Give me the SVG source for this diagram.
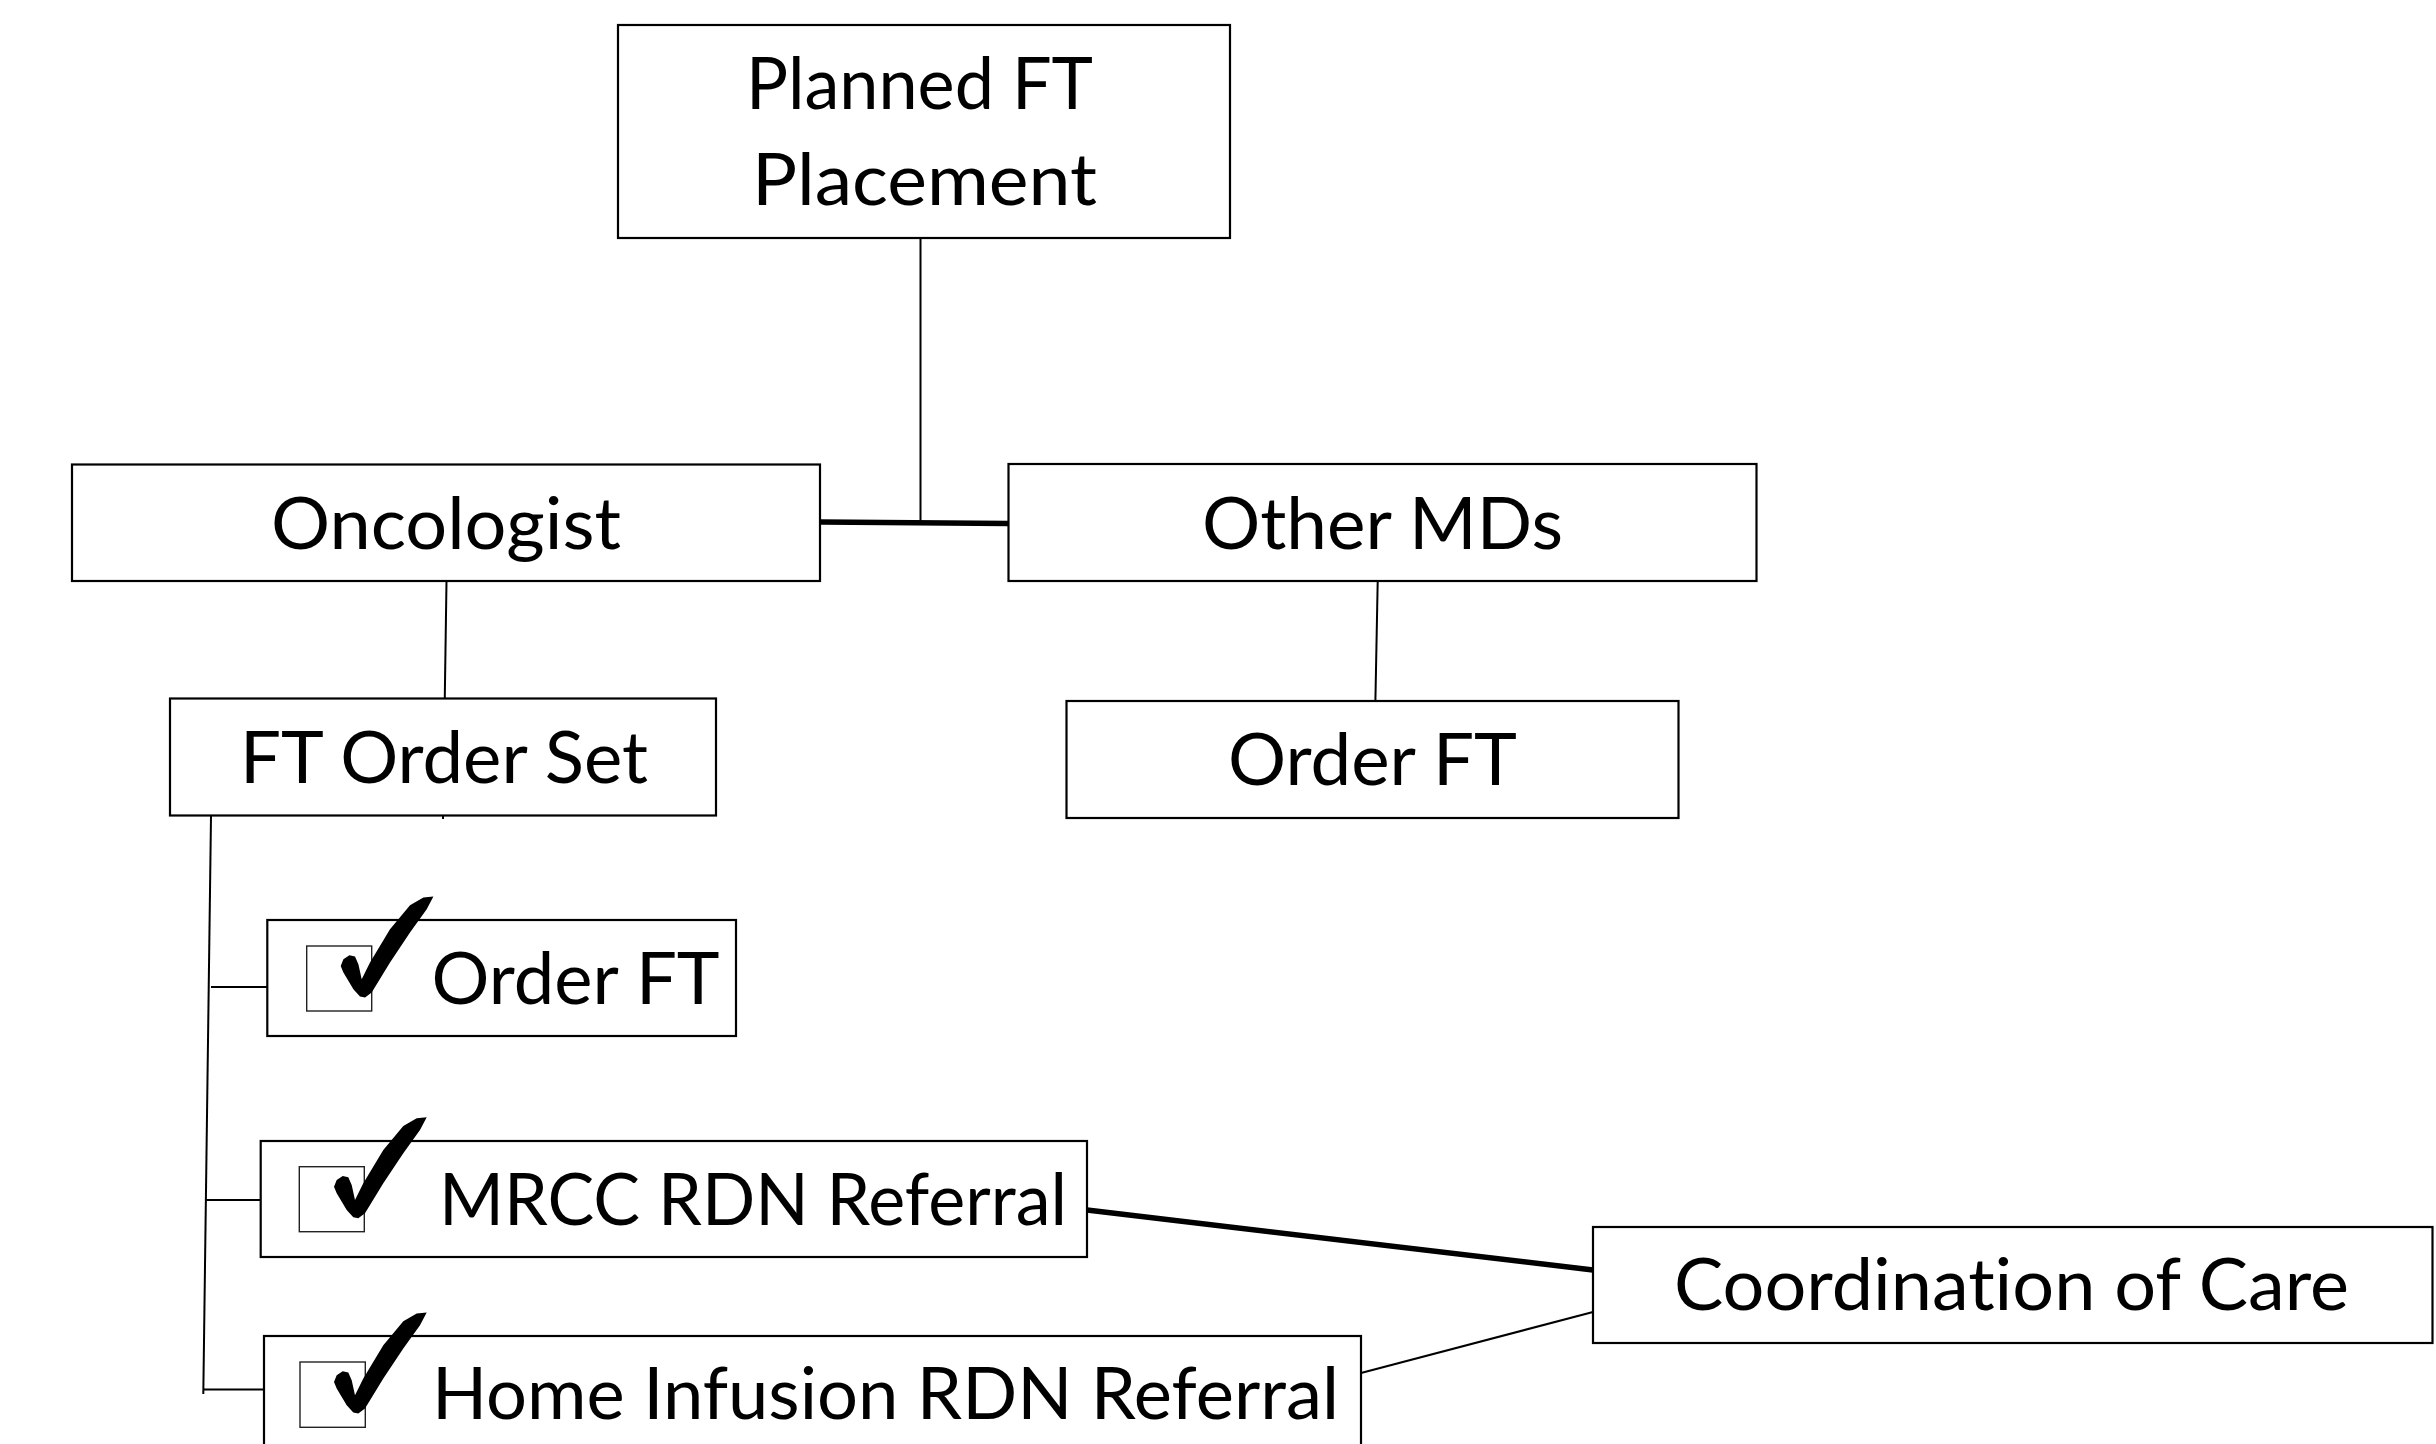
<svg xmlns="http://www.w3.org/2000/svg" xmlns:xlink="http://www.w3.org/1999/xlink" width="2436" height="1444" viewBox="0 0 2436 1444">
<style>
.box{fill:#fff;stroke:#000;stroke-width:2.2}
.cb{fill:none;stroke:#222;stroke-width:1.4}
.lbl{font-family:Lato,"Open Sans","Liberation Sans",sans-serif;font-size:71px;fill:#000;font-variant-ligatures:none;font-feature-settings:"liga" 0,"clig" 0}
.thin{stroke:#000;stroke-width:2;fill:none}
.thick{stroke:#000;stroke-width:5.5;fill:none}
</style>
<defs>
<path id="chk" d="M127.4,-49.4 L120.7,-36.7 L104,-13.4 L84,16.6 L65.7,46.6 L59,51.6 L54,50.6 L47.4,43.3 L37.4,26.6 L34.7,20 L37.4,13.3 L43.4,9.3 L49,10.6 L52.4,18.3 L55.7,33.3 L64,16.6 L84,-16.7 L104,-40.7 L117.4,-48.4 Z" fill="#000"/>
</defs>
<rect width="2436" height="1444" fill="#fff"/>
<g id="connectors">
<line class="thin" x1="920.5" y1="238" x2="920.5" y2="522"/>
<line class="thick" x1="821" y1="522" x2="1008" y2="523.5"/>
<line class="thin" x1="446.5" y1="581" x2="443" y2="819"/>
<line class="thin" x1="1377.7" y1="581" x2="1375.4" y2="701"/>
<line class="thin" x1="211" y1="816" x2="203.3" y2="1394"/>
<line class="thin" x1="211" y1="987" x2="267" y2="987"/>
<line class="thin" x1="205" y1="1200" x2="261" y2="1200"/>
<line class="thin" x1="204" y1="1389.5" x2="264" y2="1389.5"/>
<line class="thick" x1="1087" y1="1210" x2="1593" y2="1270"/>
<line class="thin" x1="1361" y1="1373" x2="1593" y2="1312"/>
</g>
<g id="planned">
<rect class="box" x="618" y="25" width="612" height="213"/>
<text class="lbl" x="746" y="109" textLength="347" lengthAdjust="spacingAndGlyphs">Planned FT</text>
<text class="lbl" x="752" y="205" textLength="345" lengthAdjust="spacingAndGlyphs">Placement</text>
</g>
<g id="oncologist">
<rect class="box" x="72" y="464.5" width="748" height="116.5"/>
<text class="lbl" x="271" y="549" textLength="350" lengthAdjust="spacingAndGlyphs">Oncologist</text>
</g>
<g id="othermds">
<rect class="box" x="1008.5" y="464" width="748" height="117"/>
<text class="lbl" x="1202" y="549" textLength="361" lengthAdjust="spacingAndGlyphs">Other MDs</text>
</g>
<g id="ftorderset">
<rect class="box" x="170" y="698.5" width="546" height="117"/>
<text class="lbl" x="240" y="783" textLength="408" lengthAdjust="spacingAndGlyphs">FT Order Set</text>
</g>
<g id="orderft-right">
<rect class="box" x="1066.5" y="701" width="612" height="117"/>
<text class="lbl" x="1228" y="785" textLength="289" lengthAdjust="spacingAndGlyphs">Order FT</text>
</g>
<g id="orderft-check">
<rect class="box" x="267.3" y="920" width="468.7" height="116"/>
<rect class="cb" x="306.7" y="946" width="65" height="65"/>
<use xlink:href="#chk" x="306" y="946"/>
<text class="lbl" x="431.6" y="1004" textLength="288" lengthAdjust="spacingAndGlyphs">Order FT</text>
</g>
<g id="mrcc">
<rect class="box" x="260.7" y="1141" width="826.3" height="116"/>
<rect class="cb" x="299.3" y="1166.7" width="65" height="65"/>
<use xlink:href="#chk" x="299.3" y="1166.7"/>
<text class="lbl" x="439" y="1225" textLength="628" lengthAdjust="spacingAndGlyphs">MRCC RDN Referral</text>
</g>
<g id="homeinfusion">
<rect class="box" x="264" y="1336" width="1097" height="130"/>
<rect class="cb" x="300" y="1362" width="65.3" height="65.3"/>
<use xlink:href="#chk" x="299.3" y="1362"/>
<text class="lbl" x="432" y="1419" textLength="907" lengthAdjust="spacingAndGlyphs">Home Infusion RDN Referral</text>
</g>
<g id="coordination">
<rect class="box" x="1593" y="1227" width="839.5" height="116"/>
<text class="lbl" x="1674" y="1310" textLength="675" lengthAdjust="spacingAndGlyphs">Coordination of Care</text>
</g>
</svg>
